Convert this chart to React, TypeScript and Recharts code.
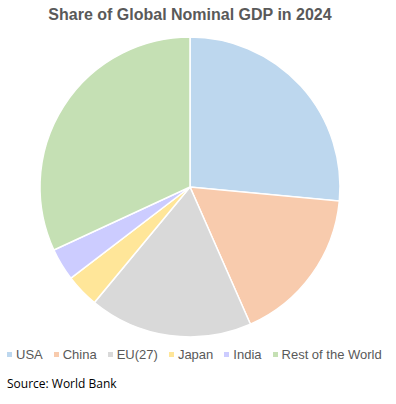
import React from 'react';
import { PieChart, Pie, Cell, Legend } from 'recharts';

const regions = ['USA', 'China', 'EU(27)', 'Japan', 'India', 'Rest of the World'];
const shares = [26.5, 16.9, 17.6, 3.6, 3.5, 31.9];
const colors = ['#bdd7ee', '#f8cbad', '#d9d9d9', '#ffe699', '#ccccff', '#c5e0b4'];

const data = regions.map((name, i) => ({ name, value: shares[i] }));

const font = '"Liberation Sans", Arial, sans-serif';

const LegendContent = () => (
  <div style={{ display: 'flex', alignItems: 'center', fontFamily: font, fontSize: 13, color: '#595959', whiteSpace: 'nowrap' }}>
    {regions.map((name, i) => (
      <div key={name} style={{ display: 'flex', alignItems: 'center', marginRight: 11 }}>
        <span style={{ display: 'inline-block', width: 5, height: 5, background: colors[i], marginRight: 4 }} />
        <span>{name}</span>
      </div>
    ))}
  </div>
);

export default function App() {
  return (
    <div style={{ position: 'absolute', left: 0, top: 0, width: 396, height: 404, background: '#fff' }}>
      <div style={{ position: 'absolute', left: 0, top: 6, width: 380, textAlign: 'center', fontFamily: font, fontWeight: 'bold', fontSize: 16, color: '#595959', zIndex: 1 }}>
        Share of Global Nominal GDP in 2024
      </div>
      <PieChart width={396} height={404} margin={{ top: 0, right: 0, bottom: 0, left: 0 }}>
        <Pie
          data={data}
          dataKey="value"
          nameKey="name"
          cx={190}
          cy={187}
          outerRadius={150}
          startAngle={90}
          endAngle={-270}
          stroke="#ffffff"
          strokeWidth={1.5}
          isAnimationActive={false}
        >
          {data.map((d, i) => (
            <Cell key={d.name} fill={colors[i]} />
          ))}
        </Pie>
        <Legend
          content={<LegendContent />}
          wrapperStyle={{ position: 'absolute', left: 7, top: 347, width: 390 }}
        />
      </PieChart>
      <div style={{ position: 'absolute', left: 7, top: 375, fontFamily: '"Open Sans", sans-serif', fontSize: 12, color: '#000' }}>
        Source: World Bank
      </div>
    </div>
  );
}
